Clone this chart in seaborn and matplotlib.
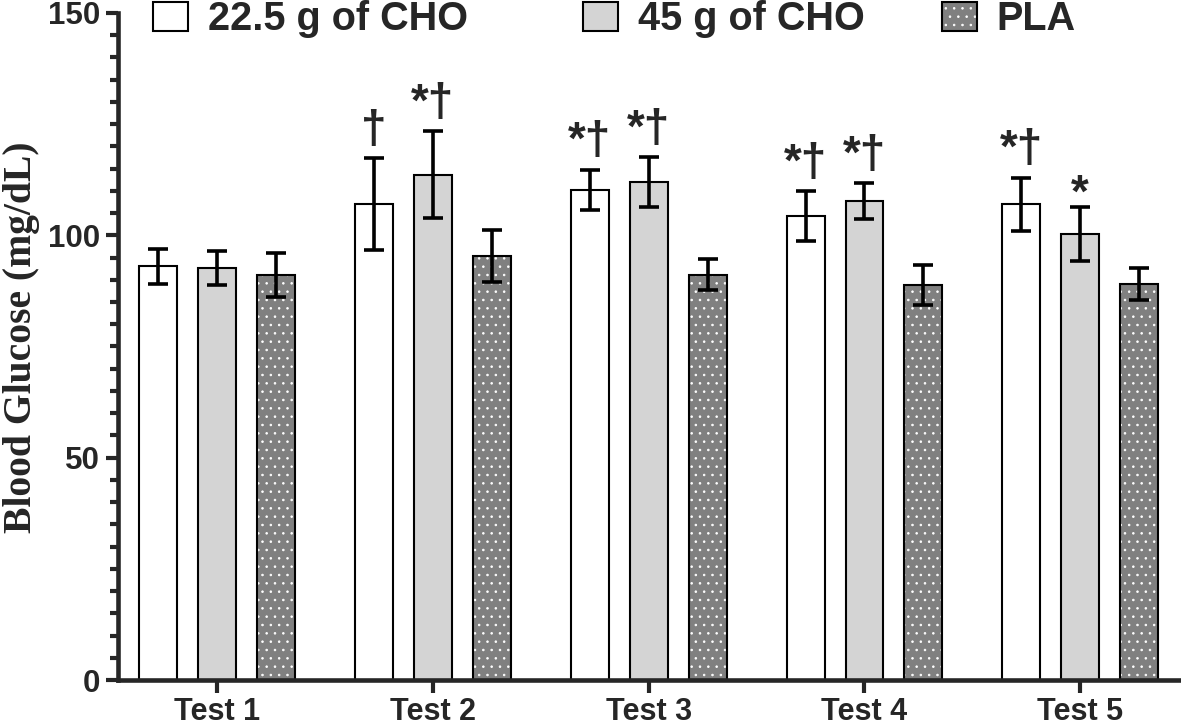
import numpy as np
import pandas as pd
import matplotlib
matplotlib.use("Agg")
import matplotlib.pyplot as plt
from matplotlib.patches import Patch, Rectangle
from matplotlib.legend_handler import HandlerTuple
from matplotlib.ticker import MultipleLocator
import seaborn as sns

# ---- data ----
tests = ["Test 1", "Test 2", "Test 3", "Test 4", "Test 5"]
conditions = ["22.5 g of CHO", "45 g of CHO", "PLA"]
mean_225 = [93.0, 107.0, 110.2, 104.3, 107.0]
sd_225 = [3.9, 10.3, 4.6, 5.6, 6.0]
mean_45 = [92.6, 113.6, 112.0, 107.7, 100.3]
sd_45 = [3.8, 9.8, 5.6, 4.0, 6.1]
mean_pla = [91.1, 95.3, 91.1, 88.8, 89.0]
sd_pla = [5.0, 5.8, 3.5, 4.5, 3.6]
# significance marks: (test index, condition index, label)
marks = [(1, 0, "†"), (1, 1, "*†"), (2, 0, "*†"), (2, 1, "*†"),
         (3, 0, "*†"), (3, 1, "*†"), (4, 0, "*†"), (4, 1, "*")]

means = [mean_225, mean_45, mean_pla]
sds = [sd_225, sd_45, sd_pla]
colors = ["#ffffff", "#d4d4d4", "#808080"]

df = pd.DataFrame({
    "test": np.repeat([tests], 3, axis=0).ravel(),
    "cond": np.repeat(conditions, len(tests)),
    "value": np.concatenate(means),
})

sns.set_style("ticks")
plt.rcParams["font.family"] = ["Liberation Sans", "DejaVu Sans"]
plt.rcParams["hatch.linewidth"] = 0.6

fig = plt.figure(figsize=(11.81, 7.26), dpi=100)
ax = fig.add_axes([118 / 1181, 1 - 680 / 726, 1 - 118 / 1181, (680 - 13) / 726])

sns.barplot(data=df, x="test", y="value", hue="cond", hue_order=conditions,
            palette=colors, errorbar=None, width=0.82, gap=0.356,
            edgecolor="black", linewidth=1.5, legend=False, ax=ax)

bar_groups = [list(c.patches) for c in ax.containers]

# error bars + PLA pattern
for ci, patches in enumerate(bar_groups):
    xs = [p.get_x() + p.get_width() / 2 for p in patches]
    if ci == 2:
        for p in patches:
            p.set_hatch("..")
            p.set_edgecolor("white")
            p.set_linewidth(0)
            ax.add_patch(Rectangle(p.get_xy(), p.get_width(), p.get_height(),
                                   fill=False, edgecolor="black", linewidth=1.5,
                                   zorder=p.get_zorder() + 0.1))
    ax.errorbar(xs, means[ci], yerr=sds[ci], fmt="none", ecolor="black",
                elinewidth=2.6, capsize=7.2, capthick=2.6, zorder=5)

# significance marks
for ti, ci, lab in marks:
    p = bar_groups[ci][ti]
    x = p.get_x() + p.get_width() / 2
    y = means[ci][ti] + sds[ci][ti]
    if "†" in lab:
        ax.annotate(lab, (x, y), xytext=(0, 4), textcoords="offset points",
                    ha="center", va="bottom", fontsize=33, fontweight="bold")
    else:
        ax.annotate(lab, (x, y), xytext=(0, 0), textcoords="offset points",
                    ha="center", va="baseline", fontsize=33, fontweight="bold")

# axes styling
ax.set_ylim(0, 150)
ax.set_xlim(-0.46, 4.467)
ax.yaxis.set_major_locator(MultipleLocator(50))
ax.yaxis.set_minor_locator(MultipleLocator(5))
for s in ["top", "right"]:
    ax.spines[s].set_visible(False)
for s in ["left", "bottom"]:
    ax.spines[s].set_linewidth(3.3)
ax.tick_params(axis="both", which="major", length=9, width=3.0, labelsize=22.5, pad=4)
ax.tick_params(axis="x", which="major", pad=3.5, labelsize=22)
ax.tick_params(axis="y", which="minor", length=5.5, width=3.0)
for lab in ax.get_xticklabels() + ax.get_yticklabels():
    lab.set_fontweight("bold")
ax.set_xlabel("")
ax.set_ylabel("Blood Glucose (mg/dL)", fontfamily=["Liberation Serif", "DejaVu Serif"],
              fontweight="bold", fontsize=28.5)
ax.yaxis.set_label_coords(-0.073, 0.514)

# legend: three separate entries as in the reference
lefts = [153, 583, 942]
for i, (lab, lx) in enumerate(zip(conditions, lefts)):
    if i == 2:
        h = (Patch(facecolor=colors[2], edgecolor="white", hatch="..", linewidth=0),
             Patch(fill=False, edgecolor="black", linewidth=1.5))
    else:
        h = Patch(facecolor=colors[i], edgecolor="black", linewidth=1.5)
    fig.legend([h], [lab], loc="upper left", bbox_to_anchor=(lx / 1181, 1.0),
               frameon=False, prop={"size": 28.5, "weight": "bold"},
               handlelength=0.88, handleheight=0.76, handletextpad=0.5,
               borderaxespad=0, borderpad=0.0,
               handler_map={tuple: HandlerTuple(ndivide=1, pad=0)})

fig.savefig("out.png", dpi=100)
